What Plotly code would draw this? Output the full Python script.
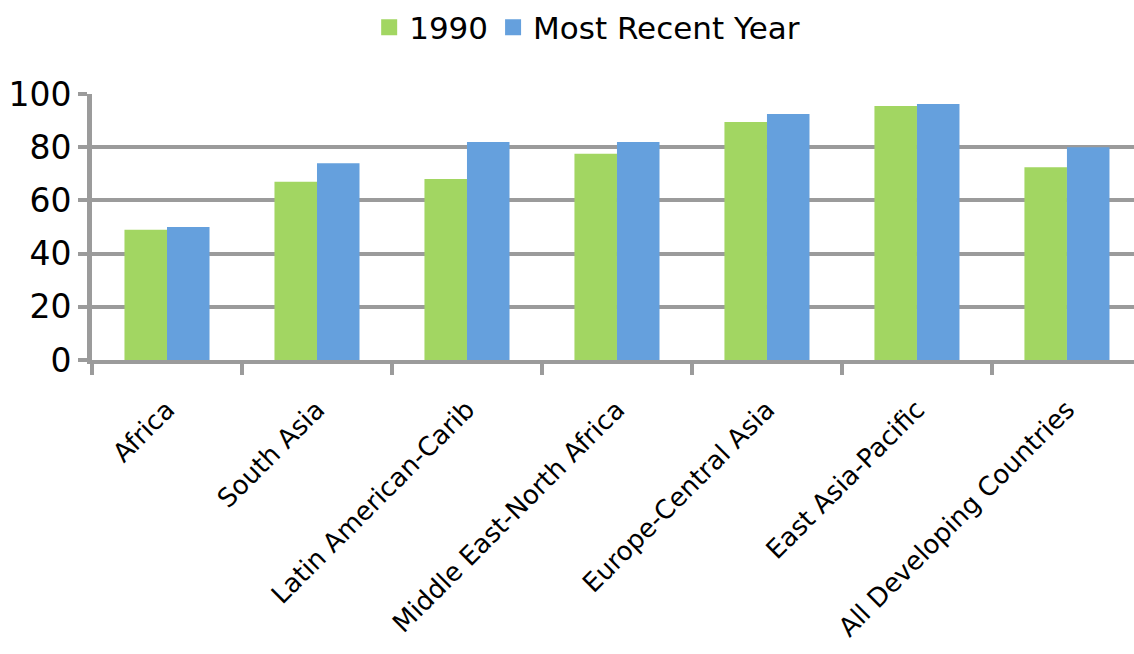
import plotly.graph_objects as go

categories = ["Africa", "South Asia", "Latin American-Carib", "Middle East-North Africa",
              "Europe-Central Asia", "East Asia-Pacific", "All Developing Countries"]
series_names = ["1990", "Most Recent Year"]
values_1990 = [49, 67, 68, 77.5, 89.5, 95.5, 72.5]
values_recent = [50, 74, 82, 82, 92.5, 96.2, 80]
y_ticks = [0, 20, 40, 60, 80, 100]

green = "#A2D662"
blue = "#65A0DD"
grid = "#9B9B9B"

fig = go.Figure()
fig.add_trace(go.Bar(x=categories, y=values_1990, name=series_names[0],
                     marker=dict(color=green, line=dict(width=0)), showlegend=False))
fig.add_trace(go.Bar(x=categories, y=values_recent, name=series_names[1],
                     marker=dict(color=blue, line=dict(width=0)), showlegend=False))
# legend entries with larger square swatches
for nm, col in zip(series_names, [green, blue]):
    fig.add_trace(go.Scatter(x=[None], y=[None], mode="markers", name=nm,
                             marker=dict(symbol="square", size=22, color=col)))

fig.update_layout(
    width=1134, height=654,
    margin=dict(l=92, r=0, t=94, b=294, autoexpand=False),
    paper_bgcolor="white", plot_bgcolor="white",
    barmode="group", bargap=0.433, bargroupgap=0,
    font=dict(family="DejaVu Sans", color="black"),
    legend=dict(orientation="h", x=0.266, xanchor="left", y=1.25, yanchor="middle",
                font=dict(size=31, family="DejaVu Sans"), itemsizing="trace",
                tracegroupgap=0, itemwidth=30, bgcolor="rgba(0,0,0,0)"),
    xaxis=dict(
        type="category", range=[-0.5, 6.447], automargin=False,
        tickangle=-45, tickfont=dict(size=26, family="DejaVu Sans"),
        ticklabelstandoff=20,
        showline=True, linecolor=grid, linewidth=4,
        ticks="outside", tickson="boundaries", ticklen=11, tickwidth=4, tickcolor=grid,
        showgrid=False, zeroline=False,
    ),
    yaxis=dict(
        range=[0, 100], tickvals=y_ticks, automargin=False,
        tickfont=dict(size=33, family="DejaVu Sans"),
        showgrid=True, gridcolor=grid, gridwidth=4,
        showline=True, linecolor=grid, linewidth=5,
        ticks="outside", ticklen=9, tickwidth=4, tickcolor=grid,
        zeroline=False, fixedrange=True,
    ),
)

fig.write_html("out.html")
